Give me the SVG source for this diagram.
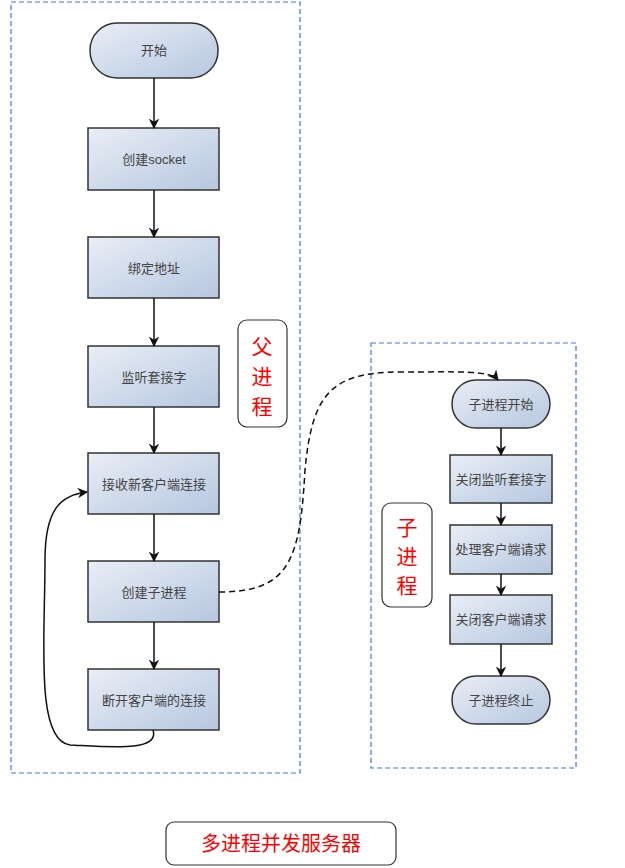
<svg xmlns="http://www.w3.org/2000/svg" width="625" height="868" viewBox="0 0 625 868">
<defs>
<linearGradient id="g" x1="0" y1="0" x2="1" y2="1"><stop offset="0" stop-color="#e9eef6"/><stop offset="1" stop-color="#b6c7df"/></linearGradient>
<marker id="a" viewBox="0 0 10 10" refX="9" refY="5" markerWidth="7" markerHeight="7" orient="auto"><path d="M0,0 L10,5 L0,10 L3,5 Z" fill="#111"/></marker>
<style>
.n{fill:url(#g);stroke:#333;stroke-width:1.5}
.t{font-family:"Liberation Serif","Noto Sans CJK SC",serif;font-size:13px;fill:#444;text-anchor:middle;dominant-baseline:central}
.s{font-family:"Liberation Sans",sans-serif}
.c{fill:none;stroke:#111;stroke-width:1.5;marker-end:url(#a)}
.grp{fill:none;stroke:#3f74f0;stroke-width:1.2;stroke-dasharray:5,3}
.lb{fill:#fff;stroke:#333;stroke-width:1.2}
.r{font-family:"Noto Sans CJK SC",sans-serif;font-size:21px;fill:#f00;text-anchor:middle}
</style>
</defs>
<rect class="grp" x="11" y="2" width="289" height="771"/>
<rect class="grp" x="371" y="343" width="205" height="425"/>
<g id="n1"><rect class="n" x="90" y="23" width="128" height="55" rx="27"/><text class="t" x="154" y="50">开始</text></g>
<g id="n2"><rect class="n" x="88" y="128" width="131" height="62"/><text class="t" x="154" y="159">创建<tspan class="s">socket</tspan></text></g>
<g id="n3"><rect class="n" x="88" y="237" width="131" height="61"/><text class="t" x="154" y="268">绑定地址</text></g>
<g id="n4"><rect class="n" x="88" y="346" width="131" height="61"/><text class="t" x="154" y="377">监听套接字</text></g>
<g id="n5"><rect class="n" x="88" y="453" width="131" height="61"/><text class="t" x="154" y="484">接收新客户端连接</text></g>
<g id="n6"><rect class="n" x="88" y="561" width="131" height="61"/><text class="t" x="154" y="592">创建子进程</text></g>
<g id="n7"><rect class="n" x="88" y="669" width="131" height="61"/><text class="t" x="154" y="700">断开客户端的连接</text></g>
<g id="l1"><rect class="lb" x="238" y="320" width="49" height="107" rx="9"/><text class="r" x="262" y="354">父</text><text class="r" x="262" y="384">进</text><text class="r" x="262" y="414">程</text></g>
<g id="m1"><rect class="n" x="452" y="380" width="98" height="48" rx="24"/><text class="t" x="501" y="404">子进程开始</text></g>
<g id="m2"><rect class="n" x="450" y="455" width="102" height="48"/><text class="t" x="501" y="479">关闭监听套接字</text></g>
<g id="m3"><rect class="n" x="450" y="525" width="102" height="49"/><text class="t" x="501" y="549">处理客户端请求</text></g>
<g id="m4"><rect class="n" x="450" y="595" width="102" height="49"/><text class="t" x="501" y="619">关闭客户端请求</text></g>
<g id="m5"><rect class="n" x="452" y="676" width="98" height="48" rx="24"/><text class="t" x="501" y="700">子进程终止</text></g>
<g id="l2"><rect class="lb" x="382" y="503" width="50" height="104" rx="9"/><text class="r" x="407" y="535">子</text><text class="r" x="407" y="564">进</text><text class="r" x="407" y="593">程</text></g>
<g id="l3"><rect class="lb" x="166" y="822" width="230" height="43" rx="8"/><text class="r" x="281" y="851" style="font-size:20px">多进程并发服务器</text></g>
<g id="connectors">
<path class="c" d="M154,78 V128"/>
<path class="c" d="M154,190 V237"/>
<path class="c" d="M154,298 V346"/>
<path class="c" d="M154,407 V453"/>
<path class="c" d="M154,514 V561"/>
<path class="c" d="M154,622 V669"/>
<path class="c" d="M153,730 C160,752 110,747 70,745 C35,740 45,640 45,560 C45,510 60,495 87,492"/>
<path class="c" d="M219,592 C290,592 300,560 305,470 C312,395 330,372 400,372 C460,372 490,370 498,380" style="stroke-dasharray:6,4"/>
<path class="c" d="M501,428 V455"/>
<path class="c" d="M501,503 V525"/>
<path class="c" d="M501,574 V595"/>
<path class="c" d="M501,644 V676"/>
</g>
</svg>
